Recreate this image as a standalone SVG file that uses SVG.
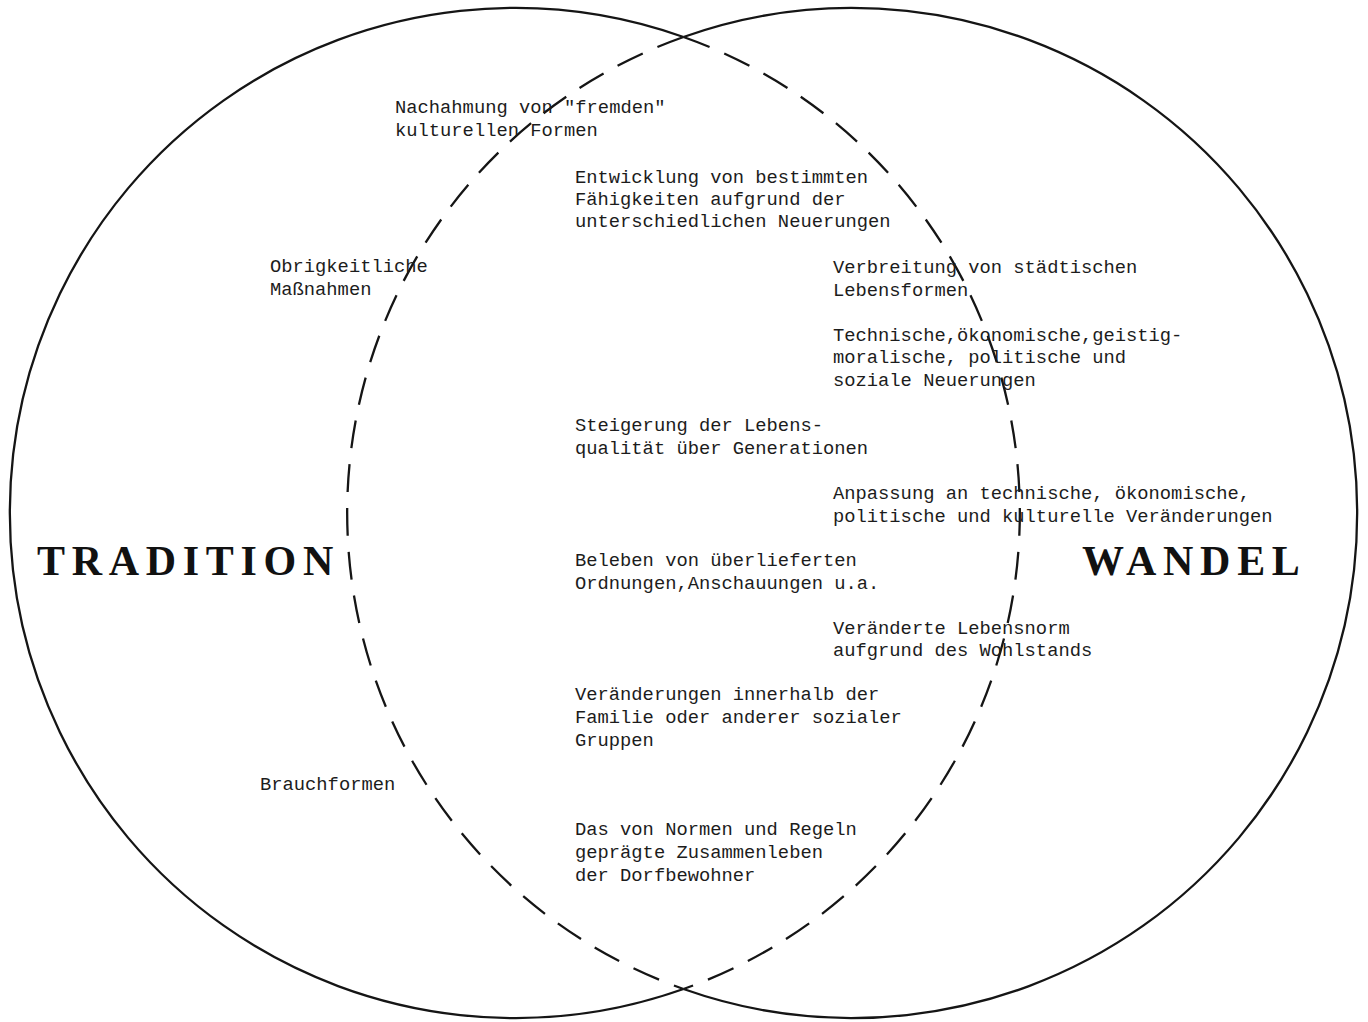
<svg xmlns="http://www.w3.org/2000/svg" width="1368" height="1022" viewBox="0 0 1368 1022">
<style>
.solid{fill:none;stroke:#151515;stroke-width:2.3}
.dash{fill:none;stroke:#151515;stroke-width:2.3;stroke-dasharray:28 16}
.t{font-family:"Liberation Mono","Courier New",monospace;font-size:18.8px;fill:#1c1c1c}
.big{font-family:"Liberation Serif","Times New Roman",serif;font-weight:bold;font-size:42px;letter-spacing:6.7px;fill:#111}
</style>
<rect width="1368" height="1022" fill="#fff"/>
<g id="tradition">
<path class="solid" d="M683.5 37 A505 505 0 1 0 683.5 989"/>
<path class="dash" d="M683.5 37 A505 505 0 0 1 683.5 989"/>
<text class="big" x="37" y="575">TRADITION</text>
</g>
<g id="wandel">
<path class="solid" d="M683.5 37 A505 505 0 1 1 683.5 989"/>
<path class="dash" d="M683.5 37 A505 505 0 0 0 683.5 989"/>
<text class="big" x="1082" y="575">WANDEL</text>
</g>
<g id="connectors"></g>
<g id="n-nachahmung" class="t"><text x="395" y="113">Nachahmung von "fremden"</text><text x="395" y="136">kulturellen Formen</text></g>
<g id="n-entwicklung" class="t"><text x="575" y="183">Entwicklung von bestimmten</text><text x="575" y="205">Fähigkeiten aufgrund der</text><text x="575" y="227">unterschiedlichen Neuerungen</text></g>
<g id="n-obrigkeit" class="t"><text x="270" y="272">Obrigkeitliche</text><text x="270" y="295">Maßnahmen</text></g>
<g id="n-verbreitung" class="t"><text x="833" y="273">Verbreitung von städtischen</text><text x="833" y="296">Lebensformen</text></g>
<g id="n-technische" class="t"><text x="833" y="341">Technische,ökonomische,geistig-</text><text x="833" y="363">moralische, politische und</text><text x="833" y="386">soziale Neuerungen</text></g>
<g id="n-steigerung" class="t"><text x="575" y="431">Steigerung der Lebens-</text><text x="575" y="454">qualität über Generationen</text></g>
<g id="n-anpassung" class="t"><text x="833" y="499">Anpassung an technische, ökonomische,</text><text x="833" y="522">politische und kulturelle Veränderungen</text></g>
<g id="n-beleben" class="t"><text x="575" y="566">Beleben von überlieferten</text><text x="575" y="589">Ordnungen,Anschauungen u.a.</text></g>
<g id="n-lebensnorm" class="t"><text x="833" y="634">Veränderte Lebensnorm</text><text x="833" y="656">aufgrund des Wohlstands</text></g>
<g id="n-familie" class="t"><text x="575" y="700">Veränderungen innerhalb der</text><text x="575" y="723">Familie oder anderer sozialer</text><text x="575" y="746">Gruppen</text></g>
<g id="n-brauch" class="t"><text x="260" y="790">Brauchformen</text></g>
<g id="n-normen" class="t"><text x="575" y="835">Das von Normen und Regeln</text><text x="575" y="858">geprägte Zusammenleben</text><text x="575" y="881">der Dorfbewohner</text></g>
</svg>
